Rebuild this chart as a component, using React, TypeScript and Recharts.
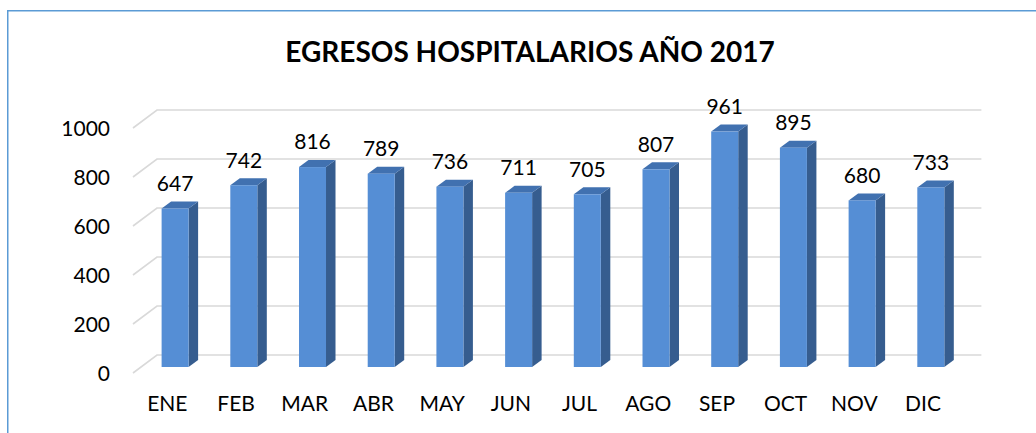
import React from 'react';
import { BarChart, Bar, XAxis, YAxis, CartesianGrid, LabelList } from 'recharts';

const months = ['ENE', 'FEB', 'MAR', 'ABR', 'MAY', 'JUN', 'JUL', 'AGO', 'SEP', 'OCT', 'NOV', 'DIC'];
const egresos = [647, 742, 816, 789, 736, 711, 705, 807, 961, 895, 680, 733];
const yTicks = [0, 200, 400, 600, 800, 1000];
const title = 'EGRESOS HOSPITALARIOS AÑO 2017';

const data = months.map((mes, i) => ({ mes, egresos: egresos[i] }));

const FONT = 'Lato, "Open Sans", sans-serif';
const FRONT = '#558ED5';
const SIDE = '#365D8F';
const TOP = '#4171B0';
const BAR_DX = 9.5;
const BAR_DY = -7;

const Bar3D = (props: any) => {
  const { x, y, width, height } = props;
  if (!height || height <= 0) return null;
  const r = x + width;
  const b = y + height;
  return (
    <g>
      <polygon points={`${r},${y} ${r + BAR_DX},${y + BAR_DY} ${r + BAR_DX},${b + BAR_DY} ${r},${b}`} fill={SIDE} />
      <polygon points={`${x},${y} ${x + BAR_DX},${y + BAR_DY} ${r + BAR_DX},${y + BAR_DY} ${r},${y}`} fill={TOP} />
      <rect x={x} y={y} width={width} height={height} fill={FRONT} />
    </g>
  );
};

const gridLine = (p: any) => {
  const y = p.y1;
  return (
    <path
      key={`g-${p.index}`}
      d={`M${p.x1 - 8},${y + 6}L${p.x1 + 16},${y - 12}L${p.x2 + 16},${y - 12}`}
      fill="none"
      stroke="#D9D9D9"
      strokeWidth={1.6}
    />
  );
};

const YTick = (p: any) => (
  <text x={110} y={p.y + 6.5} dy="0.35em" textAnchor="end" fontFamily={FONT} fontSize={21} fill="#000">
    {p.payload.value}
  </text>
);

const XTick = (p: any) => (
  <text x={p.x - 8} y={p.y} dy={36} textAnchor="middle" fontFamily={FONT} fontSize={21} fill="#000">
    {p.payload.value}
  </text>
);

const ValueLabel = (p: any) => (
  <text x={p.x + p.width / 2} y={p.y - 25} dy="0.35em" textAnchor="middle" fontFamily={FONT} fontSize={21} fill="#000">
    {p.value}
  </text>
);

export default function App() {
  return (
    <div style={{ position: 'absolute', left: 0, top: 0, width: 1036, height: 433, overflow: 'hidden', background: '#fff' }}>
      <BarChart
        width={1036}
        height={433}
        data={data}
        margin={{ top: 122, right: 70.6, bottom: 36, left: 0 }}
        barCategoryGap="30%"
      >
        <rect x={7.75} y={10.75} width={2000} height={1000} fill="none" stroke="#5B9BD5" strokeWidth={1.5} />
        <text x={530} y={61.7} textAnchor="middle" fontFamily={FONT} fontWeight="bold" fontSize={28} fill="#000">
          {title}
        </text>
        <CartesianGrid vertical={false} horizontal={gridLine} />
        <XAxis dataKey="mes" height={30} axisLine={false} tickLine={false} tick={<XTick />} interval={0} />
        <YAxis width={141} domain={[0, 1000]} ticks={yTicks} axisLine={false} tickLine={false} tick={<YTick />} />
        <Bar dataKey="egresos" shape={<Bar3D />} isAnimationActive={false}>
          <LabelList dataKey="egresos" content={<ValueLabel />} />
        </Bar>
      </BarChart>
    </div>
  );
}
